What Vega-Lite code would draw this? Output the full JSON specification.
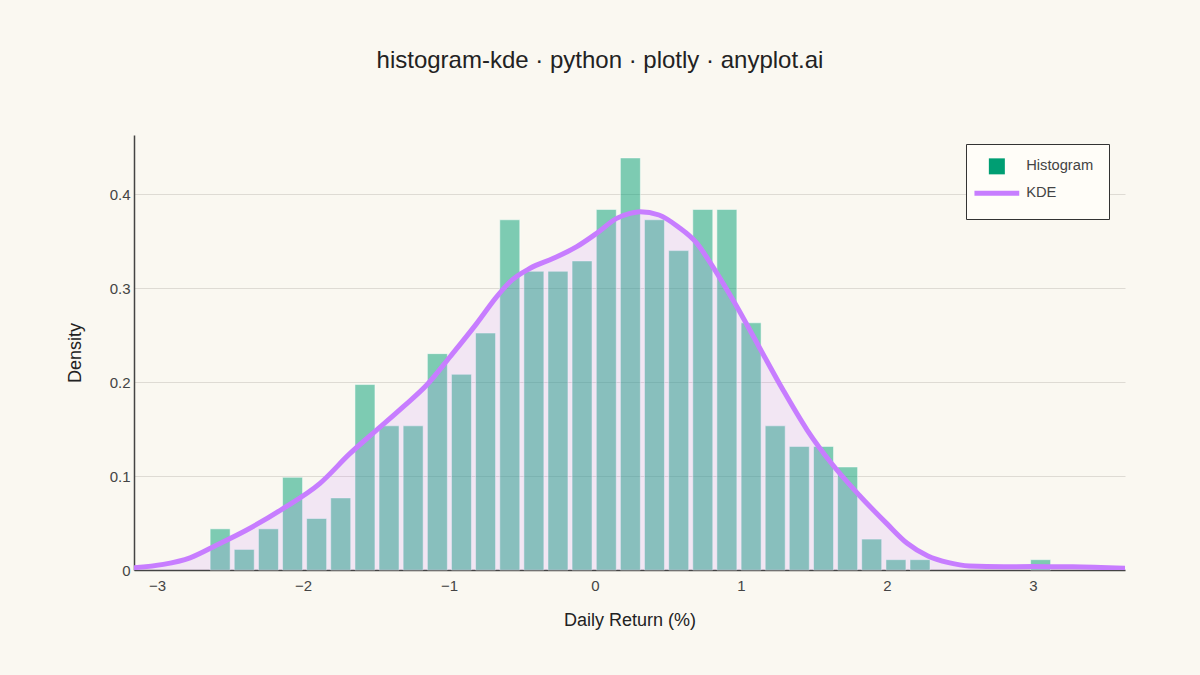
{
  "$schema": "https://vega.github.io/schema/vega-lite/v6.json",
  "width": 991,
  "height": 435,
  "autosize": {"type": "none"},
  "padding": {"left": 134, "top": 135, "right": 75, "bottom": 105},
  "background": "#FAF8F1",
  "config": {
    "font": "Liberation Sans",
    "view": {"stroke": null},
    "axis": {
      "labelFont": "Liberation Sans",
      "titleFont": "Liberation Sans",
      "labelFontSize": 15,
      "labelColor": "#444444",
      "titleFontSize": 18,
      "titleFontWeight": "normal",
      "titleColor": "#222222",
      "domainColor": "#444444",
      "domainWidth": 1.5,
      "ticks": false,
      "gridColor": "#DEDBD4",
      "gridWidth": 1
    }
  },
  "title": {
    "text": "histogram-kde · python · plotly · anyplot.ai",
    "fontSize": 24,
    "fontWeight": "normal",
    "color": "#222222",
    "anchor": "middle",
    "baseline": "alphabetic",
    "dx": -29.5,
    "offset": 43
  },
  "datasets": {
    "hist": [
      {"x": -2.568, "density": 0.0438},
      {"x": -2.403, "density": 0.0219},
      {"x": -2.237, "density": 0.0438},
      {"x": -2.072, "density": 0.0986},
      {"x": -1.907, "density": 0.0548},
      {"x": -1.742, "density": 0.0767},
      {"x": -1.576, "density": 0.1973},
      {"x": -1.411, "density": 0.1534},
      {"x": -1.246, "density": 0.1534},
      {"x": -1.080, "density": 0.2302},
      {"x": -0.915, "density": 0.2082},
      {"x": -0.750, "density": 0.2521},
      {"x": -0.584, "density": 0.3726},
      {"x": -0.419, "density": 0.3178},
      {"x": -0.254, "density": 0.3178},
      {"x": -0.089, "density": 0.3288},
      {"x": 0.077, "density": 0.3836},
      {"x": 0.242, "density": 0.4384},
      {"x": 0.407, "density": 0.3726},
      {"x": 0.573, "density": 0.3398},
      {"x": 0.738, "density": 0.3836},
      {"x": 0.903, "density": 0.3836},
      {"x": 1.069, "density": 0.263},
      {"x": 1.234, "density": 0.1534},
      {"x": 1.399, "density": 0.1315},
      {"x": 1.565, "density": 0.1315},
      {"x": 1.730, "density": 0.1096},
      {"x": 1.895, "density": 0.0329},
      {"x": 2.061, "density": 0.011},
      {"x": 2.226, "density": 0.011},
      {"x": 3.052, "density": 0.011}
    ],
    "kde": [
      {"x": -3.158, "density": 0.0025},
      {"x": -2.957, "density": 0.006},
      {"x": -2.774, "density": 0.013},
      {"x": -2.591, "density": 0.0266},
      {"x": -2.386, "density": 0.0426},
      {"x": -2.135, "density": 0.0656},
      {"x": -1.884, "density": 0.0922},
      {"x": -1.678, "density": 0.124},
      {"x": -1.495, "density": 0.149},
      {"x": -1.313, "density": 0.1738},
      {"x": -1.153, "density": 0.1968},
      {"x": -0.993, "density": 0.2269},
      {"x": -0.81, "density": 0.2624},
      {"x": -0.673, "density": 0.2908},
      {"x": -0.582, "density": 0.3067},
      {"x": -0.445, "density": 0.321},
      {"x": -0.285, "density": 0.3316},
      {"x": -0.125, "density": 0.344},
      {"x": 0.011, "density": 0.3582},
      {"x": 0.148, "density": 0.3741},
      {"x": 0.24, "density": 0.3794},
      {"x": 0.308, "density": 0.3812},
      {"x": 0.438, "density": 0.3777},
      {"x": 0.568, "density": 0.3652},
      {"x": 0.698, "density": 0.3475},
      {"x": 0.792, "density": 0.3262},
      {"x": 0.958, "density": 0.2837},
      {"x": 1.123, "density": 0.2376},
      {"x": 1.288, "density": 0.1915},
      {"x": 1.453, "density": 0.1489},
      {"x": 1.619, "density": 0.1135},
      {"x": 1.808, "density": 0.0798},
      {"x": 1.997, "density": 0.0496},
      {"x": 2.138, "density": 0.0284},
      {"x": 2.28, "density": 0.0149},
      {"x": 2.422, "density": 0.0078},
      {"x": 2.563, "density": 0.0043},
      {"x": 2.8, "density": 0.0035},
      {"x": 3.0, "density": 0.0036},
      {"x": 3.27, "density": 0.0034},
      {"x": 3.63, "density": 0.0018}
    ]
  },
  "encoding": {
    "x": {
      "field": "x",
      "type": "quantitative",
      "title": "Daily Return (%)",
      "scale": {"domain": [-3.158, 3.63], "nice": false, "zero": false, "padding": 0},
      "axis": {"values": [-3, -2, -1, 0, 1, 2, 3], "grid": false, "labelPadding": 8, "titlePadding": 18}
    },
    "y": {
      "field": "density",
      "type": "quantitative",
      "title": "Density",
      "scale": {"domain": [0, 0.4628], "nice": false},
      "axis": {"values": [0, 0.1, 0.2, 0.3, 0.4], "format": "~g", "grid": true, "labelPadding": 4, "titlePadding": 25}
    }
  },
  "layer": [
    {
      "mark": {"type": "rule", "color": "#D4D1CA", "strokeWidth": 1},
      "encoding": {"x": {"datum": 0, "type": "quantitative"}, "y": {"value": 0}, "y2": {"value": 435}}
    },
    {
      "data": {"name": "hist"},
      "mark": {"type": "bar", "width": 20, "fillOpacity": 0.5, "stroke": "#FFFFFF", "strokeWidth": 1, "strokeOpacity": 0.5},
      "encoding": {
        "color": {
          "datum": "Histogram",
          "type": "nominal",
          "scale": {"domain": ["Histogram", "KDE"], "range": ["#009E73", "#C77DFF"]},
          "legend": {
            "title": null,
            "orient": "none",
            "legendX": 832,
            "legendY": 9,
            "padding": 15,
            "fillColor": "#FFFDF8",
            "strokeColor": "#333333",
            "labelFont": "Liberation Sans",
            "labelFontSize": 14.7,
            "labelColor": "#444444",
            "labelOffset": 22,
            "rowPadding": 8,
            "symbolSize": 256,
            "symbolOffset": 8.5,
            "symbolOpacity": 1,
            "symbolType": {"expr": "datum.value === 'KDE' ? 'M-2.8,0H2.8' : 'square'"},
            "symbolStrokeWidth": {"expr": "datum.value === 'KDE' ? 5 : 0"}
          }
        }
      }
    },
    {
      "data": {"name": "kde"},
      "mark": {"type": "area", "color": "#C77DFF", "fillOpacity": 0.15, "interpolate": "monotone", "clip": true}
    },
    {
      "data": {"name": "kde"},
      "mark": {"type": "line", "strokeWidth": 5, "interpolate": "monotone", "strokeCap": "round", "clip": true},
      "encoding": {"color": {"datum": "KDE", "type": "nominal"}}
    }
  ]
}
